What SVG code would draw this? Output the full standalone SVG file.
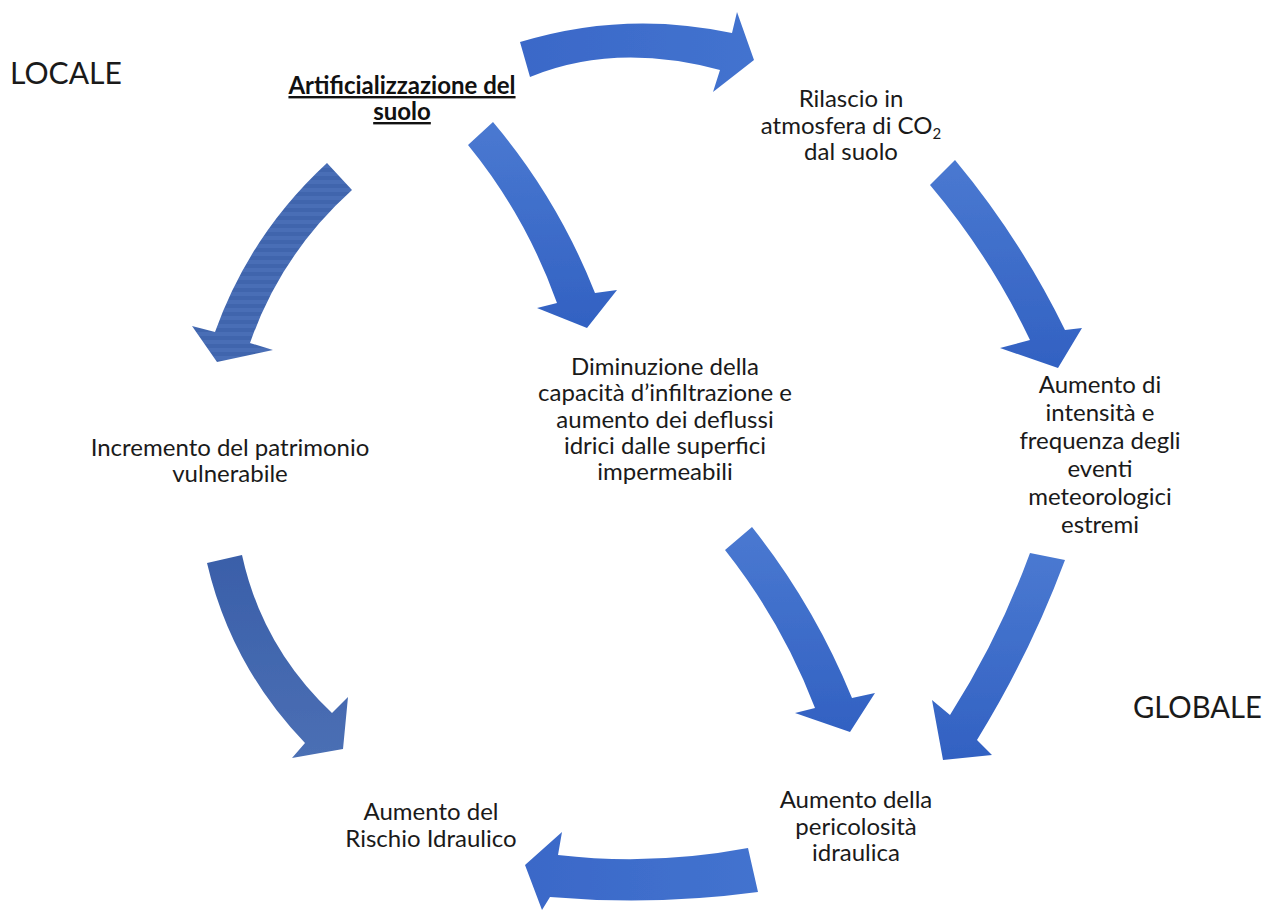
<svg xmlns="http://www.w3.org/2000/svg" width="1268" height="911" viewBox="0 0 1268 911">
  <style>
    .lbl { font-family: Lato, "Liberation Sans", sans-serif; font-size: 24px; fill: #1a1a1a; text-anchor: middle; }
    .big { font-family: Lato, "Liberation Sans", sans-serif; font-size: 31px; fill: #1a1a1a; }
    .title { font-family: Lato, "Liberation Sans", sans-serif; font-size: 24px; font-weight: bold; fill: #111; text-anchor: middle; text-decoration: underline; }
  </style>
  <defs>
    <linearGradient id="blueV" x1="0" y1="0" x2="0" y2="1">
      <stop offset="0" stop-color="#4A79D1"/>
      <stop offset="1" stop-color="#3261C2"/>
    </linearGradient>
    <linearGradient id="blueH" x1="0" y1="0" x2="1" y2="0">
      <stop offset="0" stop-color="#3A68C8"/>
      <stop offset="1" stop-color="#4373CF"/>
    </linearGradient>
    <linearGradient id="blueDark" x1="0" y1="0" x2="0" y2="1">
      <stop offset="0" stop-color="#3A5FA9"/>
      <stop offset="1" stop-color="#4B6FB4"/>
    </linearGradient>
    <pattern id="bands" patternUnits="userSpaceOnUse" width="20" height="8">
      <rect width="20" height="8" fill="#4065AD"/>
      <rect y="4" width="20" height="4" fill="#496EB6"/>
    </pattern>
    <filter id="soft" x="-5%" y="-5%" width="110%" height="110%">
      <feGaussianBlur stdDeviation="0.6"/>
    </filter>
  </defs>

  <rect width="1268" height="911" fill="#ffffff"/>

  <!-- curved block arrows -->
  <g id="connectors" filter="url(#soft)">
    <!-- soil sealing -> CO2 release -->
    <path id="arrow-top" fill="url(#blueH)"
          d="M520,42 Q625,10 732,33 L737,12 L754,60 L713,92 L720,70 Q615,42 530,77 Z"/>
    <!-- soil sealing -> vulnerable assets -->
    <path id="arrow-left" fill="url(#bands)"
          d="M327,163 Q250,234 215,332 L192,326 L217,362 L273,350 L250,343 Q281,254 352,190 Z"/>
    <!-- soil sealing -> reduced infiltration -->
    <path id="arrow-center" fill="url(#blueV)"
          d="M493,122 Q558,199 595,293 L617,290 L587,328 L537,308 L557,303 Q526,216 468,145 Z"/>
    <!-- CO2 release -> extreme events -->
    <path id="arrow-right" fill="url(#blueV)"
          d="M955,160 Q1020,238 1065,330 L1082,328 L1058,368 L1000,348 L1030,340 Q990,256 930,185 Z"/>
    <!-- vulnerable assets -> hydraulic risk -->
    <path id="arrow-lower-left" fill="url(#blueDark)"
          d="M207,563 Q231,666 305,743 L292,758 L343,749 L348,697 L332,713 Q262,647 242,555 Z"/>
    <!-- reduced infiltration -> hydraulic hazard -->
    <path id="arrow-lower-center" fill="url(#blueV)"
          d="M752,527 Q814,605 852,698 L875,693 L850,732 L795,713 L815,708 Q782,622 725,550 Z"/>
    <!-- extreme events -> hydraulic hazard -->
    <path id="arrow-lower-right" fill="url(#blueV)"
          d="M1065,560 Q1030,654 977,740 L992,755 L943,760 L932,700 L950,715 Q999,638 1030,553 Z"/>
    <!-- hydraulic hazard -> hydraulic risk -->
    <path id="arrow-bottom" fill="url(#blueH)"
          d="M748,848 Q653,866 558,855 L562,832 L525,865 L542,910 L550,897 Q654,906 758,892 Z"/>
  </g>

  <g id="scale-locale">
    <text class="big" x="10" y="84" textLength="112" lengthAdjust="spacingAndGlyphs">LOCALE</text>
  </g>
  <g id="scale-globale">
    <text class="big" x="1133" y="718" textLength="129" lengthAdjust="spacingAndGlyphs">GLOBALE</text>
  </g>

  <g id="node-artificializzazione">
    <text class="title" x="402" y="94">Artificializzazione del<tspan x="402" dy="26">suolo</tspan></text>
  </g>

  <g id="node-rilascio">
    <text class="lbl" x="851" y="107">Rilascio in<tspan x="851" dy="27">atmosfera di CO</tspan><tspan font-size="15" dy="5">2</tspan><tspan x="851" dy="21">dal suolo</tspan></text>
  </g>

  <g id="node-incremento">
    <text class="lbl" x="230" y="456">Incremento del patrimonio<tspan x="230" dy="26">vulnerabile</tspan></text>
  </g>

  <g id="node-diminuzione">
    <text class="lbl" x="665" y="375">Diminuzione della<tspan x="665" dy="26.3">capacità d’infiltrazione e</tspan><tspan x="665" dy="26.3">aumento dei deflussi</tspan><tspan x="665" dy="26.3">idrici dalle superfici</tspan><tspan x="665" dy="26.3">impermeabili</tspan></text>
  </g>

  <g id="node-eventi">
    <text class="lbl" x="1100" y="393">Aumento di<tspan x="1100" dy="28">intensità e</tspan><tspan x="1100" dy="28">frequenza degli</tspan><tspan x="1100" dy="28">eventi</tspan><tspan x="1100" dy="28">meteorologici</tspan><tspan x="1100" dy="28">estremi</tspan></text>
  </g>

  <g id="node-pericolosita">
    <text class="lbl" x="856" y="808">Aumento della<tspan x="856" dy="26.5">pericolosità</tspan><tspan x="856" dy="26.5">idraulica</tspan></text>
  </g>

  <g id="node-rischio">
    <text class="lbl" x="431" y="820">Aumento del<tspan x="431" dy="27">Rischio Idraulico</tspan></text>
  </g>
</svg>
